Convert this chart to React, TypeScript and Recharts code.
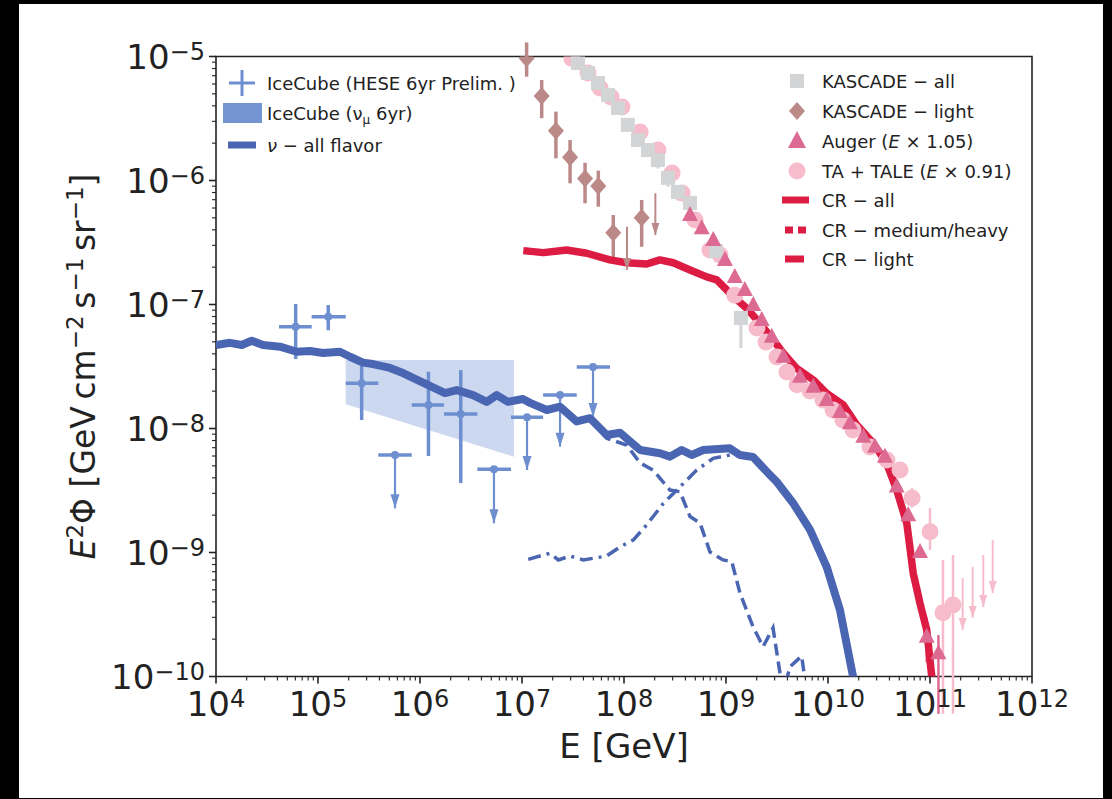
// @ts-nocheck
import React from 'react';
import {
  ComposedChart,
  Line,
  Area,
  Scatter,
  XAxis,
  YAxis,
  ErrorBar,
  ReferenceArea,
} from 'recharts';

const FONT = '"DejaVu Sans", sans-serif';
const INK = '#222';

const C_NU = '#4a66b2';
const C_HESE = '#6d8fd0';
const C_BAND = '#6d8fd0';
const C_CR = '#dc1c43';
const C_KALL = '#d3d4d6';
const C_KLIGHT = '#bb8a88';
const C_AUGER = '#dc6a92';
const C_TA = '#f7bccb';

// axes
const xMajor = [1e4, 1e5, 1e6, 1e7, 1e8, 1e9, 1e10, 1e11, 1e12];
const yMajor = [1e-10, 1e-9, 1e-8, 1e-7, 1e-6, 1e-5];
const minorMult = [2, 3, 4, 5, 6, 7, 8, 9];

// nu - all flavor (model)
const nuAllE = [1.0e4, 1.37e4, 1.79e4, 2.24e4, 2.89e4, 4.24e4, 6.18e4, 8.36e4, 1.12e5, 1.64e5, 2.06e5, 2.76e5, 3.46e5, 5.08e5, 6.81e5, 1.07e6, 1.76e6, 2.29e6, 3.31e6, 4.51e6, 5.65e6, 7.29e6, 1.02e7, 1.2e7, 1.75e7, 2.36e7, 3.44e7, 4.65e7, 6.76e7, 9.14e7, 1.44e8, 2.25e8, 2.82e8, 3.68e8, 4.61e8, 5.98e8, 1.09e9, 1.37e9, 1.84e9, 2.7e9, 3.14e9, 4.54e9, 6.67e9, 9.7e9, 1.31e10, 1.76e10, 1.95e10];
const nuAllF = [4.71e-8, 4.91e-8, 4.71e-8, 5.1e-8, 4.71e-8, 4.57e-8, 4.16e-8, 4.22e-8, 4.06e-8, 4.16e-8, 3.79e-8, 3.4e-8, 3.31e-8, 3.08e-8, 2.8e-8, 2.34e-8, 1.93e-8, 2.04e-8, 1.86e-8, 1.64e-8, 1.86e-8, 1.64e-8, 1.73e-8, 1.61e-8, 1.41e-8, 1.5e-8, 1.14e-8, 1.21e-8, 8.87e-9, 9.25e-9, 6.71e-9, 6.31e-9, 5.93e-9, 6.71e-9, 6.11e-9, 6.71e-9, 6.92e-9, 6.11e-9, 5.89e-9, 4.22e-9, 3.72e-9, 2.51e-9, 1.52e-9, 7.67e-10, 3.44e-10, 1.0e-10, 6.4e-11];

// nu component (dashed)
const nuDashE = [4.65e7, 6.76e7, 1.06e8, 1.44e8, 1.92e8, 2.82e8, 3.54e8, 4.44e8, 5.56e8, 6.97e8, 9.35e8, 1.14e9, 1.37e9, 1.84e9, 2.31e9, 2.89e9, 3.38e9, 3.71e9, 4.24e9, 5.52e9, 5.96e9, 6.08e9];
const nuDashF = [1.21e-8, 8.34e-9, 7.36e-9, 5.27e-9, 4.63e-9, 3.19e-9, 3.09e-9, 1.95e-9, 1.73e-9, 1.01e-9, 8.71e-10, 8.43e-10, 4.71e-10, 2.52e-10, 1.74e-10, 2.46e-10, 1.07e-10, 7.8e-11, 1.2e-10, 1.46e-10, 9.3e-11, 6.4e-11];

// nu component (dash-dot)
const nuDotE = [1.15e7, 1.5e7, 1.88e7, 2.27e7, 2.96e7, 3.99e7, 6.76e7, 9.14e7, 1.23e8, 1.67e8, 2.43e8, 3.29e8, 5.16e8, 7.5e8, 1.09e9, 1.53e9];
const nuDotF = [8.81e-10, 9.37e-10, 9.86e-10, 8.71e-10, 9.37e-10, 8.71e-10, 9.37e-10, 1.11e-9, 1.26e-9, 1.67e-9, 2.49e-9, 3.19e-9, 4.62e-9, 5.75e-9, 6.11e-9, 6.0e-9];

// CR - all (model)
const crAllE = [1.03e7, 1.62e7, 2.74e7, 4.31e7, 7.29e7, 1.06e8, 1.67e8, 2.25e8, 3.04e8, 4.44e8, 6.47e8, 8.11e8, 1.18e9, 1.6e9, 2.15e9, 2.91e9, 3.65e9, 4.93e9, 7.18e9, 9.7e9, 1.41e10, 1.91e10, 2.78e10, 3.76e10, 4.72e10, 5.92e10, 6.85e10, 7.98e10, 9.29e10, 1.04e11, 1.07e11];
const crAllF = [2.72e-7, 2.62e-7, 2.75e-7, 2.59e-7, 2.29e-7, 2.17e-7, 2.12e-7, 2.29e-7, 2.17e-7, 1.9e-7, 1.67e-7, 1.58e-7, 1.16e-7, 9.31e-8, 7.05e-8, 5.17e-8, 4.04e-8, 3.05e-8, 2.46e-8, 1.92e-8, 1.55e-8, 1.07e-8, 7.6e-9, 5.24e-9, 3.19e-9, 1.72e-9, 6.79e-10, 3.89e-10, 2.37e-10, 1.0e-10, 6.5e-11];

// IceCube nu_mu 6yr band
const bandE = [1.87e5, 8.35e6];
const bandLo = [1.57e-8, 5.93e-9];
const bandHi = [3.56e-8, 3.56e-8];

// IceCube HESE 6yr (hi = null -> upper limit, lo = arrow tip)
const heseEdges = [4.15e4, 8.67e4, 1.87e5, 3.9e5, 8.3e5, 1.72e6, 3.65e6, 7.8e6, 1.61e7, 3.44e7, 7.29e7];
const heseE = [6.04e4, 1.26e5, 2.68e5, 5.69e5, 1.21e6, 2.51e6, 5.31e6, 1.12e7, 2.36e7, 4.97e7];
const heseF = [6.62e-8, 7.98e-8, 2.32e-8, 6.1e-9, 1.55e-8, 1.31e-8, 4.69e-9, 1.23e-8, 1.86e-8, 3.13e-8];
const heseLo = [3.63e-8, 6.2e-8, 1.17e-8, 2.27e-9, 6.0e-9, 3.63e-9, 1.72e-9, 4.62e-9, 7.13e-9, 1.24e-8];
const heseHi = [1.01e-7, 9.9e-8, 3.19e-8, null, 2.87e-8, 2.96e-8, null, null, null, null];

// KASCADE - all
const kAllE = [3.54e7, 4.44e7, 5.56e7, 6.97e7, 8.73e7, 1.09e8, 1.37e8, 1.72e8, 2.15e8, 2.7e8, 3.38e8, 4.44e8, 7.98e8, 1.4e9];
const kAllF = [8.87e-6, 7.36e-6, 6.11e-6, 4.89e-6, 3.85e-6, 2.81e-6, 2.12e-6, 1.76e-6, 1.46e-6, 1.05e-6, 8.07e-7, 6.59e-7, 2.7e-7, 7.78e-8];
const kAllLo = [8.87e-6, 7.36e-6, 6.11e-6, 4.89e-6, 3.85e-6, 2.81e-6, 2.12e-6, 1.76e-6, 1.25e-6, 8.9e-7, 6.9e-7, 5.4e-7, 2.2e-7, 4.46e-8];

// KASCADE - light (hi = null -> upper limit)
const kLightE = [1.11e7, 1.56e7, 2.15e7, 2.96e7, 4.15e7, 5.6e7, 7.85e7, 1.07e8, 1.49e8, 2.03e8];
const kLightF = [9.67e-6, 4.8e-6, 2.52e-6, 1.54e-6, 1.04e-6, 9.03e-7, 3.79e-7, 4.24e-7, 5.01e-7, 7.89e-7];
const kLightLo = [6.87e-6, 3.18e-6, 1.51e-6, 9.49e-7, 6.55e-7, 6.15e-7, 2.4e-7, 1.9e-7, 2.92e-7, 3.63e-7];
const kLightHi = [1.3e-5, 6.46e-6, 3.59e-6, 2.12e-6, 1.39e-6, 1.2e-6, 5.27e-7, null, 6.97e-7, null];

// Auger (E x 1.05)
const augerE = [4.44e8, 5.78e8, 7.5e8, 9.77e8, 1.22e9, 1.53e9, 1.85e9, 2.24e9, 2.81e9, 3.65e9, 5.31e9, 7.18e9, 9.7e9, 1.31e10, 1.64e10, 2.22e10, 2.89e10, 3.62e10, 4.72e10, 6.12e10, 7.98e10, 9.29e10, 1.21e11];
const augerF = [5.27e-7, 4.12e-7, 3.31e-7, 2.29e-7, 1.67e-7, 1.31e-7, 9.91e-8, 7.5e-8, 5.5e-8, 3.79e-8, 2.62e-8, 2.17e-8, 1.7e-8, 1.36e-8, 1.1e-8, 8.59e-9, 7.13e-9, 5.93e-9, 3.4e-9, 2.0e-9, 1.01e-9, 2.09e-10, 1.54e-10];
const augerLo = [5.27e-7, 4.12e-7, 3.31e-7, 2.29e-7, 1.67e-7, 1.31e-7, 9.91e-8, 7.5e-8, 5.5e-8, 3.79e-8, 2.62e-8, 2.17e-8, 1.7e-8, 1.36e-8, 1.1e-8, 8.59e-9, 7.13e-9, 5.93e-9, 3.4e-9, 2.0e-9, 1.01e-9, 1.3e-10, 5e-11];
const augerHi = [5.27e-7, 4.12e-7, 3.31e-7, 2.29e-7, 1.67e-7, 1.31e-7, 9.91e-8, 7.5e-8, 5.5e-8, 3.79e-8, 2.62e-8, 2.17e-8, 1.7e-8, 1.36e-8, 1.1e-8, 8.59e-9, 7.13e-9, 5.93e-9, 3.4e-9, 2.0e-9, 1.01e-9, 3.0e-10, 2.16e-10];

// TA + TALE (E x 0.91)
const taE = [3.09e7, 4.44e7, 5.82e7, 7.46e7, 9.55e7, 1.44e8, 2.15e8, 2.96e8, 3.71e8, 4.97e8, 6.97e8, 8.73e8, 1.22e9, 2.01e9, 2.47e9, 3.16e9, 3.96e9, 4.97e9, 6.67e9, 8.93e9, 1.12e10, 1.4e10, 1.76e10, 2.58e10, 3.78e10, 5.08e10, 6.67e10, 1.0e11, 1.34e11, 1.68e11];
const taF = [9.64e-6, 7.36e-6, 5.57e-6, 4.71e-6, 3.92e-6, 2.46e-6, 1.76e-6, 1.15e-6, 7.93e-7, 4.8e-7, 2.75e-7, 2.51e-7, 1.19e-7, 6.47e-8, 4.99e-8, 3.78e-8, 2.86e-8, 2.25e-8, 2.01e-8, 1.7e-8, 1.41e-8, 1.17e-8, 9.73e-9, 7.1e-9, 5.57e-9, 4.62e-9, 2.75e-9, 1.47e-9, 3.26e-10, 3.78e-10];
const taLo = [9.64e-6, 7.36e-6, 5.57e-6, 4.71e-6, 3.92e-6, 2.46e-6, 1.76e-6, 1.15e-6, 7.93e-7, 4.8e-7, 2.75e-7, 2.51e-7, 1.19e-7, 6.47e-8, 4.99e-8, 3.78e-8, 2.86e-8, 2.25e-8, 2.01e-8, 1.7e-8, 1.41e-8, 1.17e-8, 9.73e-9, 7.1e-9, 5.57e-9, 4.62e-9, 2.3e-9, 1.05e-9, 5e-11, 5e-11];
const taHi = [9.64e-6, 7.36e-6, 5.57e-6, 4.71e-6, 3.92e-6, 2.46e-6, 1.76e-6, 1.15e-6, 7.93e-7, 4.8e-7, 2.75e-7, 2.51e-7, 1.19e-7, 6.47e-8, 4.99e-8, 3.78e-8, 2.86e-8, 2.25e-8, 2.01e-8, 1.7e-8, 1.41e-8, 1.17e-8, 9.73e-9, 7.1e-9, 5.57e-9, 4.62e-9, 3.3e-9, 2.29e-9, 8.7e-10, 9.55e-10];
const taUlE = [2.09e11, 2.62e11, 3.33e11, 4.12e11];
const taUlF = [6.22e-10, 7.64e-10, 9.55e-10, 1.26e-9];
const taUlTip = [2.37e-10, 2.97e-10, 3.63e-10, 4.71e-10];

// ---- tables built from the arrays above
const toXY = (es, fs) => es.map((e, i) => ({ e, f: fs[i] }));
const withErr = (es, fs, lo, hi) =>
  es.map((e, i) => ({ e, f: fs[i], ye: [fs[i] - lo[i], hi[i] - fs[i]] }));

const nuAll = toXY(nuAllE, nuAllF);
const nuDash = toXY(nuDashE, nuDashF);
const nuDot = toXY(nuDotE, nuDotF);
const crAll = toXY(crAllE, crAllF);
const band = bandE.map((e, i) => ({ e, band: [bandLo[i], bandHi[i]] }));

const heseRows = heseE.map((e, i) => ({
  e,
  f: heseF[i],
  xe: [e - heseEdges[i], heseEdges[i + 1] - e],
  ye: [heseF[i] - heseLo[i], heseHi[i] == null ? 0 : heseHi[i] - heseF[i]],
  ul: heseHi[i] == null,
  tip: heseLo[i],
}));
const heseMeas = heseRows.filter((r) => !r.ul);
const heseUl = heseRows.filter((r) => r.ul);
const heseTips = heseUl.map((r) => ({ e: r.e, f: r.tip }));

const kAll = kAllE.map((e, i) => ({ e, f: kAllF[i], ye: [kAllF[i] - kAllLo[i], 0] }));

const kLightRows = kLightE.map((e, i) => ({
  e,
  f: kLightF[i],
  ye: [kLightF[i] - kLightLo[i], kLightHi[i] == null ? 0 : kLightHi[i] - kLightF[i]],
  ul: kLightHi[i] == null,
  tip: kLightLo[i],
}));
const kLightMeas = kLightRows.filter((r) => !r.ul);
const kLightUl = kLightRows.filter((r) => r.ul);
const kLightTips = kLightUl.map((r) => ({ e: r.e, f: r.tip }));

const auger = withErr(augerE, augerF, augerLo, augerHi);
const ta = withErr(taE, taF, taLo, taHi);
const taUl = taUlE.map((e, i) => ({ e, f: taUlF[i], ye: [taUlF[i] - taUlTip[i], 0] }));
const taTips = taUlE.map((e, i) => ({ e, f: taUlTip[i] }));

const xTicks = [...xMajor, ...xMajor.slice(0, -1).flatMap((m) => minorMult.map((k) => k * m))];
const yTicks = [...yMajor, ...yMajor.slice(0, -1).flatMap((m) => minorMult.map((k) => k * m))];

// ---- marker shapes
const dotShape = (r, fill) => (p) => <circle cx={p.cx} cy={p.cy} r={r} fill={fill} />;
const squareShape = (p) => <rect x={p.cx - 7} y={p.cy - 7} width={14} height={14} fill={C_KALL} />;
const diamondShape = (p) => (
  <polygon
    points={`${p.cx},${p.cy - 9} ${p.cx + 8},${p.cy} ${p.cx},${p.cy + 9} ${p.cx - 8},${p.cy}`}
    fill={C_KLIGHT}
  />
);
const triShape = (p) => (
  <polygon points={`${p.cx},${p.cy - 9} ${p.cx + 8},${p.cy + 6} ${p.cx - 8},${p.cy + 6}`} fill={C_AUGER} />
);
const arrowShape = (fill, w, h) => (p) => (
  <polygon points={`${p.cx - w},${p.cy - h} ${p.cx + w},${p.cy - h} ${p.cx},${p.cy}`} fill={fill} />
);
const noShape = () => <g />;

// ---- axis ticks
const XTick = ({ x, y, payload }) => {
  const v = payload.value;
  const major = xMajor.includes(v);
  const p = Math.round(Math.log10(v));
  return (
    <g>
      <line x1={x} x2={x} y1={y} y2={y + (major ? 7 : 4)} stroke={INK} strokeWidth={major ? 1.6 : 1.1} />
      {major && (
        <text x={x} y={y + 39.5} textAnchor="middle" fontSize={34} fill={INK} fontFamily={FONT}>
          10
          <tspan dy={-9} fontSize={24}>
            {p}
          </tspan>
        </text>
      )}
    </g>
  );
};

const YTick = ({ x, y, payload }) => {
  const v = payload.value;
  const major = yMajor.includes(v);
  const p = Math.round(Math.log10(v));
  return (
    <g>
      <line x1={x - (major ? 7 : 4)} x2={x} y1={y} y2={y} stroke={INK} strokeWidth={major ? 1.6 : 1.1} />
      {major && (
        <text x={x - 11} y={y + 12.5} textAnchor="end" fontSize={34} fill={INK} fontFamily={FONT}>
          10
          <tspan dy={-9} fontSize={24}>
            {`\u2212${-p}`}
          </tspan>
        </text>
      )}
    </g>
  );
};

const XTitle = ({ viewBox }) => (
  <text
    x={viewBox.x + viewBox.width / 2}
    y={viewBox.y + 81}
    textAnchor="middle"
    fontSize={34}
    fill={INK}
    fontFamily={FONT}
  >
    E [GeV]
  </text>
);

const YTitle = ({ viewBox }) => {
  const cx = viewBox.x - 21;
  const cy = viewBox.y + viewBox.height / 2;
  return (
    <text
      transform={`translate(${cx},${cy}) rotate(-90)`}
      textAnchor="middle"
      fontSize={33}
      fill={INK}
      fontFamily={FONT}
    >
      <tspan fontStyle="italic">E</tspan>
      <tspan dy={-12} fontSize={23}>2</tspan>
      <tspan dy={12}>{'\u03A6 [GeV\u2009cm'}</tspan>
      <tspan dy={-12} fontSize={23}>{'\u22122'}</tspan>
      <tspan dy={12}>{'\u2009s'}</tspan>
      <tspan dy={-12} fontSize={23}>{'\u22121'}</tspan>
      <tspan dy={12}>{'\u2009sr'}</tspan>
      <tspan dy={-12} fontSize={23}>{'\u22121'}</tspan>
      <tspan dy={12}>]</tspan>
    </text>
  );
};

// ---- legends (overlay)
const LT = ({ x, y, children }) => (
  <text x={x} y={y + 6.5} fontSize={18} fill={INK} fontFamily={FONT}>
    {children}
  </text>
);

const Legends = () => {
  const rows = [81, 111, 141, 171, 200, 230, 259];
  const sx = 797;
  const tx = 822;
  return (
    <svg width={1112} height={799} style={{ position: 'absolute', left: 0, top: 0, pointerEvents: 'none' }}>
      {/* left legend */}
      <line x1={229} x2={255} y1={83} y2={83} stroke={C_HESE} strokeWidth={3} />
      <line x1={242} x2={242} y1={70} y2={96} stroke={C_HESE} strokeWidth={3} />
      <LT x={267} y={83}>IceCube (HESE 6yr Prelim. )</LT>
      <rect x={223} y={103} width={39} height={20} fill={C_BAND} fillOpacity={0.95} />
      <LT x={267} y={113}>
        IceCube (ν
        <tspan fontSize={12} dy={4}>μ</tspan>
        <tspan dy={-4}> 6yr)</tspan>
      </LT>
      <line x1={228} x2={256} y1={145} y2={145} stroke={C_NU} strokeWidth={7} />
      <LT x={267} y={145}>
        <tspan fontStyle="italic">ν</tspan> − all flavor
      </LT>

      {/* right legend */}
      <rect x={sx - 7} y={rows[0] - 7} width={14} height={14} fill={C_KALL} />
      <LT x={tx} y={rows[0]}>KASCADE − all</LT>
      <polygon points={`${sx},${rows[1] - 9} ${sx + 8},${rows[1]} ${sx},${rows[1] + 9} ${sx - 8},${rows[1]}`} fill={C_KLIGHT} />
      <LT x={tx} y={rows[1]}>KASCADE − light</LT>
      <polygon points={`${sx},${rows[2] - 10} ${sx + 9},${rows[2] + 7} ${sx - 9},${rows[2] + 7}`} fill={C_AUGER} />
      <LT x={tx} y={rows[2]}>
        Auger (<tspan fontStyle="italic">E</tspan> × 1.05)
      </LT>
      <circle cx={sx} cy={rows[3]} r={8.5} fill={C_TA} />
      <LT x={tx} y={rows[3]}>
        TA + TALE (<tspan fontStyle="italic">E</tspan> × 0.91)
      </LT>
      <line x1={782} x2={809} y1={rows[4]} y2={rows[4]} stroke={C_CR} strokeWidth={7} />
      <LT x={tx} y={rows[4]}>CR − all</LT>
      <line x1={785} x2={807} y1={rows[5]} y2={rows[5]} stroke={C_CR} strokeWidth={7} strokeDasharray="8 5" />
      <LT x={tx} y={rows[5]}>CR − medium/heavy</LT>
      <line x1={785} x2={804} y1={rows[6]} y2={rows[6]} stroke={C_CR} strokeWidth={7} />
      <LT x={tx} y={rows[6]}>CR − light</LT>
    </svg>
  );
};

export default function App() {
  return (
    <div style={{ position: 'absolute', left: 0, top: 0, width: 1112, height: 799, background: '#000', overflow: 'hidden' }}>
      <div style={{ position: 'absolute', left: 19, top: 4, width: 1084, height: 794, background: '#fff' }} />
      <div style={{ position: 'absolute', left: 0, top: 0 }}>
        <ComposedChart width={1112} height={799} margin={{ top: 56.5, right: 80, bottom: 62.5, left: 116 }}>
          <XAxis
            dataKey="e"
            type="number"
            scale="log"
            domain={[1e4, 1e12]}
            allowDataOverflow
            ticks={xTicks}
            interval={0}
            tick={XTick}
            tickLine={false}
            axisLine={false}
            tickSize={0}
            tickMargin={0}
            height={60}
            label={XTitle}
          />
          <YAxis
            type="number"
            scale="log"
            domain={[1e-10, 1e-5]}
            allowDataOverflow
            ticks={yTicks}
            interval={0}
            tick={YTick}
            tickLine={false}
            axisLine={false}
            tickSize={0}
            tickMargin={0}
            width={100}
            label={YTitle}
          />

          <Area
            data={band}
            dataKey="band"
            type="linear"
            stroke="none"
            fill={C_BAND}
            fillOpacity={0.35}
            isAnimationActive={false}
          />

          <Scatter data={heseMeas} dataKey="f" shape={dotShape(4, C_HESE)} isAnimationActive={false}>
            <ErrorBar dataKey="xe" direction="x" width={0} stroke={C_HESE} strokeWidth={3.5} />
            <ErrorBar dataKey="ye" direction="y" width={0} stroke={C_HESE} strokeWidth={3.5} />
          </Scatter>
          <Scatter data={heseUl} dataKey="f" shape={dotShape(4, C_HESE)} isAnimationActive={false}>
            <ErrorBar dataKey="xe" direction="x" width={0} stroke={C_HESE} strokeWidth={3.5} />
            <ErrorBar dataKey="ye" direction="y" width={0} stroke={C_HESE} strokeWidth={2.2} />
          </Scatter>
          <Scatter data={heseTips} dataKey="f" shape={arrowShape(C_HESE, 4.5, 14)} isAnimationActive={false} />

          <Line data={nuDot} dataKey="f" type="linear" stroke={C_NU} strokeWidth={3.5} strokeDasharray="13 6 3 6" dot={false} isAnimationActive={false} />
          <Line data={nuDash} dataKey="f" type="linear" stroke={C_NU} strokeWidth={3.5} strokeDasharray="12 6" dot={false} isAnimationActive={false} />
          <Line data={nuAll} dataKey="f" type="linear" stroke={C_NU} strokeWidth={8} strokeLinejoin="round" dot={false} isAnimationActive={false} />

          <Scatter data={ta} dataKey="f" shape={dotShape(8.5, C_TA)} isAnimationActive={false}>
            <ErrorBar dataKey="ye" direction="y" width={0} stroke={C_TA} strokeWidth={2.5} />
          </Scatter>
          <Scatter data={taUl} dataKey="f" shape={noShape} isAnimationActive={false}>
            <ErrorBar dataKey="ye" direction="y" width={0} stroke={C_TA} strokeWidth={2} />
          </Scatter>
          <Scatter data={taTips} dataKey="f" shape={arrowShape(C_TA, 4, 12)} isAnimationActive={false} />

          <Scatter data={kAll} dataKey="f" shape={squareShape} isAnimationActive={false}>
            <ErrorBar dataKey="ye" direction="y" width={0} stroke={C_KALL} strokeWidth={3} />
          </Scatter>

          <Scatter data={kLightMeas} dataKey="f" shape={diamondShape} isAnimationActive={false}>
            <ErrorBar dataKey="ye" direction="y" width={0} stroke={C_KLIGHT} strokeWidth={3.5} />
          </Scatter>
          <Scatter data={kLightUl} dataKey="f" shape={noShape} isAnimationActive={false}>
            <ErrorBar dataKey="ye" direction="y" width={0} stroke={C_KLIGHT} strokeWidth={2} />
          </Scatter>
          <Scatter data={kLightTips} dataKey="f" shape={arrowShape(C_KLIGHT, 4, 12)} isAnimationActive={false} />

          <Scatter data={auger} dataKey="f" shape={triShape} isAnimationActive={false}>
            <ErrorBar dataKey="ye" direction="y" width={0} stroke={C_AUGER} strokeWidth={2.5} />
          </Scatter>

          <Line data={crAll} dataKey="f" type="linear" stroke={C_CR} strokeWidth={7.5} strokeLinejoin="round" dot={false} isAnimationActive={false} />

          <ReferenceArea x1={1e4} x2={1e12} y1={1e-10} y2={1e-5} fill="none" stroke={INK} strokeWidth={1.6} ifOverflow="visible" />
        </ComposedChart>
      </div>
      <Legends />
    </div>
  );
}
